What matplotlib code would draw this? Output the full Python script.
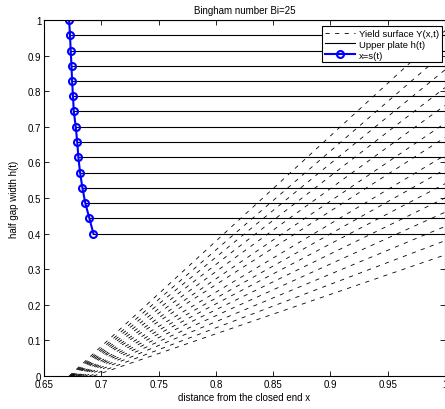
# Import python packages

import numpy as np
import matplotlib
matplotlib.use('Agg')
import matplotlib.pyplot as plt

plt.rcParams['font.family'] = ['Liberation Sans', 'DejaVu Sans']

# Data: plate height h(t), front position s(t)

h = [1.0, 0.957, 0.914, 0.871, 0.829, 0.786, 0.743, 0.700,
     0.657, 0.614, 0.571, 0.529, 0.486, 0.443, 0.400]
s = [0.6719, 0.6727, 0.6733, 0.6740, 0.6745, 0.6753, 0.6760, 0.6777,
     0.6790, 0.6800, 0.6815, 0.6835, 0.6860, 0.6896, 0.6931]

# Yield surface Y(x,t) at the closed end x=1 for each time step
y_end = [0.97, 0.91, 0.86, 0.81, 0.76, 0.71, 0.67, 0.62,
         0.58, 0.54, 0.50, 0.46, 0.42, 0.38, 0.34]
x_end = 1.0

fig = plt.figure(figsize=(4.45, 4.10), dpi=100)
ax = fig.add_axes([0.0989, 0.0805, 0.9011, 0.8683])

# Yield surfaces
for i in range(len(h)):
    line_y, = ax.plot([s[i], x_end], [0, y_end[i]], color='black', lw=0.6,
                      dashes=(5, 6.5))

# Upper plate
for i in range(len(h)):
    line_h, = ax.plot([s[i], x_end], [h[i], h[i]], color='black', lw=0.8)

# Front position
line_s, = ax.plot(s, h, '-o', color='blue', lw=1.5, markersize=5,
                  markerfacecolor='none', markeredgewidth=1.5)

ax.set_xlim(0.65, 1)
ax.set_ylim(0, 1)
ax.set_xticks(np.arange(0.65, 1.001, 0.05))
ax.set_xticklabels(['0.65', '0.7', '0.75', '0.8', '0.85', '0.9', '0.95', '1'])
ax.set_yticks(np.arange(0, 1.001, 0.1))
ax.set_yticklabels(['0', '0.1', '0.2', '0.3', '0.4', '0.5', '0.6', '0.7',
                    '0.8', '0.9', '1'])
ax.tick_params(direction='in', length=3.5, width=0.6, labelsize=7,
               top=True, right=True, pad=2)
for sp in ax.spines.values():
    sp.set_linewidth(0.8)

ax.set_xlabel('distance from the closed end x', fontsize=7, labelpad=2)
ax.set_ylabel('half gap width h(t)', fontsize=7, labelpad=6)
ax.set_title('Bingham number Bi=25', fontsize=7, pad=5)

leg = ax.legend([line_y, line_h, line_s],
                ['Yield surface Y(x,t)', 'Upper plate h(t)', 'x=s(t)'],
                loc='upper right', bbox_to_anchor=(0.9925, 0.983),
                borderaxespad=0, fontsize=6.8, fancybox=False,
                framealpha=1, edgecolor='black', handlelength=3.2,
                labelspacing=0.2, borderpad=0.3, handletextpad=0.4)
leg.get_frame().set_linewidth(0.8)

plt.savefig('out.png', dpi=100)
